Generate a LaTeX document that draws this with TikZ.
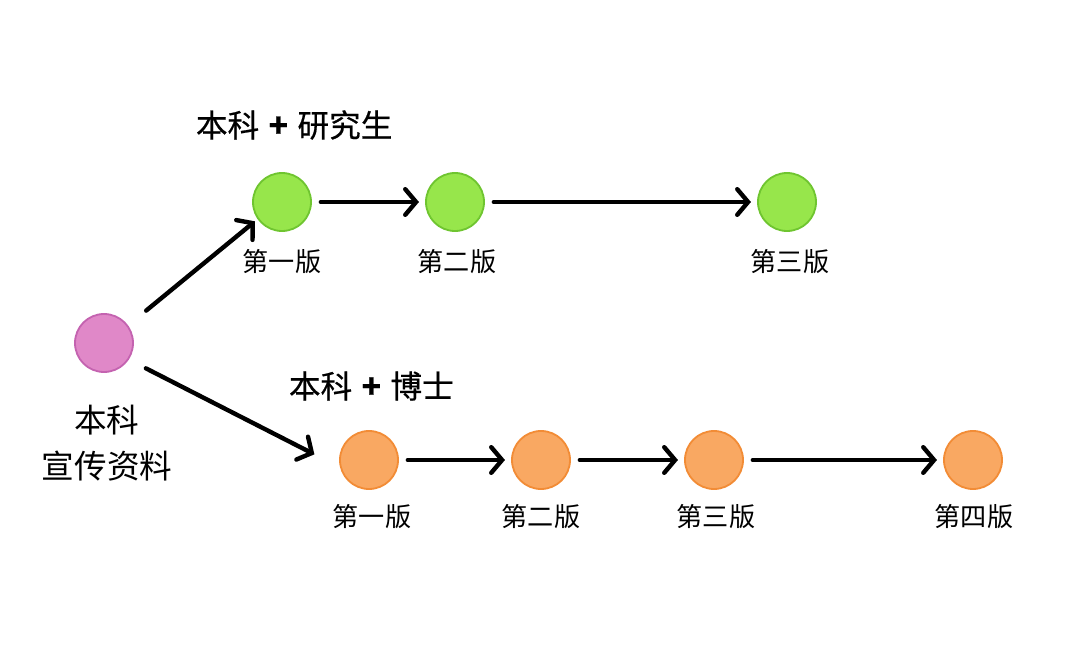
\documentclass[tikz,border=0pt]{standalone}
\usepackage{fontspec}
\setmainfont{Noto Sans CJK SC}
\newfontfamily\ttlfont[FakeBold=0.6]{Noto Sans CJK SC}
\usetikzlibrary{arrows.meta}

\definecolor{pinkfill}{HTML}{E088C8}
\definecolor{pinkline}{HTML}{C463B0}
\definecolor{greenfill}{HTML}{97E64B}
\definecolor{greenline}{HTML}{6FC530}
\definecolor{orangefill}{HTML}{F9A862}
\definecolor{orangeline}{HTML}{F28C36}

\begin{document}
\begin{tikzpicture}[x=0.025cm,y=-0.025cm,
        ver/.style={circle,minimum size=1.45cm,inner sep=0pt,outer sep=0pt,line width=1.3pt},
        lbl/.style={font=\fontsize{18.6}{21}\selectfont},
        ttl/.style={font=\ttlfont\fontsize{22.5}{26}\selectfont,anchor=west},
        arr/.style={line width=0.11cm,line cap=round,
                    -{Straight Barb[length=0.27cm,width=0.64cm,line cap=round]}}]
        \useasboundingbox (0,0) rectangle (1080,648);

        \coordinate (P)  at (104,343);
        \coordinate (G1) at (282,202);
        \coordinate (G2) at (455,202);
        \coordinate (G3) at (787,202);
        \coordinate (O1) at (369,460);
        \coordinate (O2) at (541,460);
        \coordinate (O3) at (714,460);
        \coordinate (O4) at (973,460);

        \node[ver,fill=pinkfill,draw=pinkline]     (src) at (P)  {};
        \node[ver,fill=greenfill,draw=greenline]   (g1)  at (G1) {};
        \node[ver,fill=greenfill,draw=greenline]   (g2)  at (G2) {};
        \node[ver,fill=greenfill,draw=greenline]   (g3)  at (G3) {};
        \node[ver,fill=orangefill,draw=orangeline] (o1)  at (O1) {};
        \node[ver,fill=orangefill,draw=orangeline] (o2)  at (O2) {};
        \node[ver,fill=orangefill,draw=orangeline] (o3)  at (O3) {};
        \node[ver,fill=orangefill,draw=orangeline] (o4)  at (O4) {};

        \node[align=center,font=\fontsize{23.2}{33}\selectfont] (srclbl) at (107,443) {本科\\宣传资料};

        \node[ttl] (gttl) at (191,125) {本科\hspace{0.3em}\textbf{+}\hspace{0.3em}研究生};
        \node[ttl] (ottl) at (284,386) {本科\hspace{0.3em}\textbf{+}\hspace{0.3em}博士};

        \node[lbl] (g1lbl) at (282,262) {第一版};
        \node[lbl] (g2lbl) at (457,262) {第二版};
        \node[lbl] (g3lbl) at (790,262) {第三版};
        \node[lbl] (o1lbl) at (372,517) {第一版};
        \node[lbl] (o2lbl) at (541,517) {第二版};
        \node[lbl] (o3lbl) at (716,517) {第三版};
        \node[lbl] (o4lbl) at (974,517) {第四版};

        % branches
        \draw[arr,shorten <=22\pgflinewidth/4,shorten >=3] (src.36) -- (g1.215);
        \draw[arr,shorten <=0.5cm,shorten >=0.75cm] (src.-34) -- (o1.196);

        % versions
        \draw[arr,shorten <=7,shorten >=5] (g1) -- (g2);
        \draw[arr,shorten <=7,shorten >=5] (g2) -- (g3);
        \draw[arr,shorten <=7,shorten >=5] (o1) -- (o2);
        \draw[arr,shorten <=7,shorten >=5] (o2) -- (o3);
        \draw[arr,shorten <=7,shorten >=5] (o3) -- (o4);
\end{tikzpicture}
\end{document}
